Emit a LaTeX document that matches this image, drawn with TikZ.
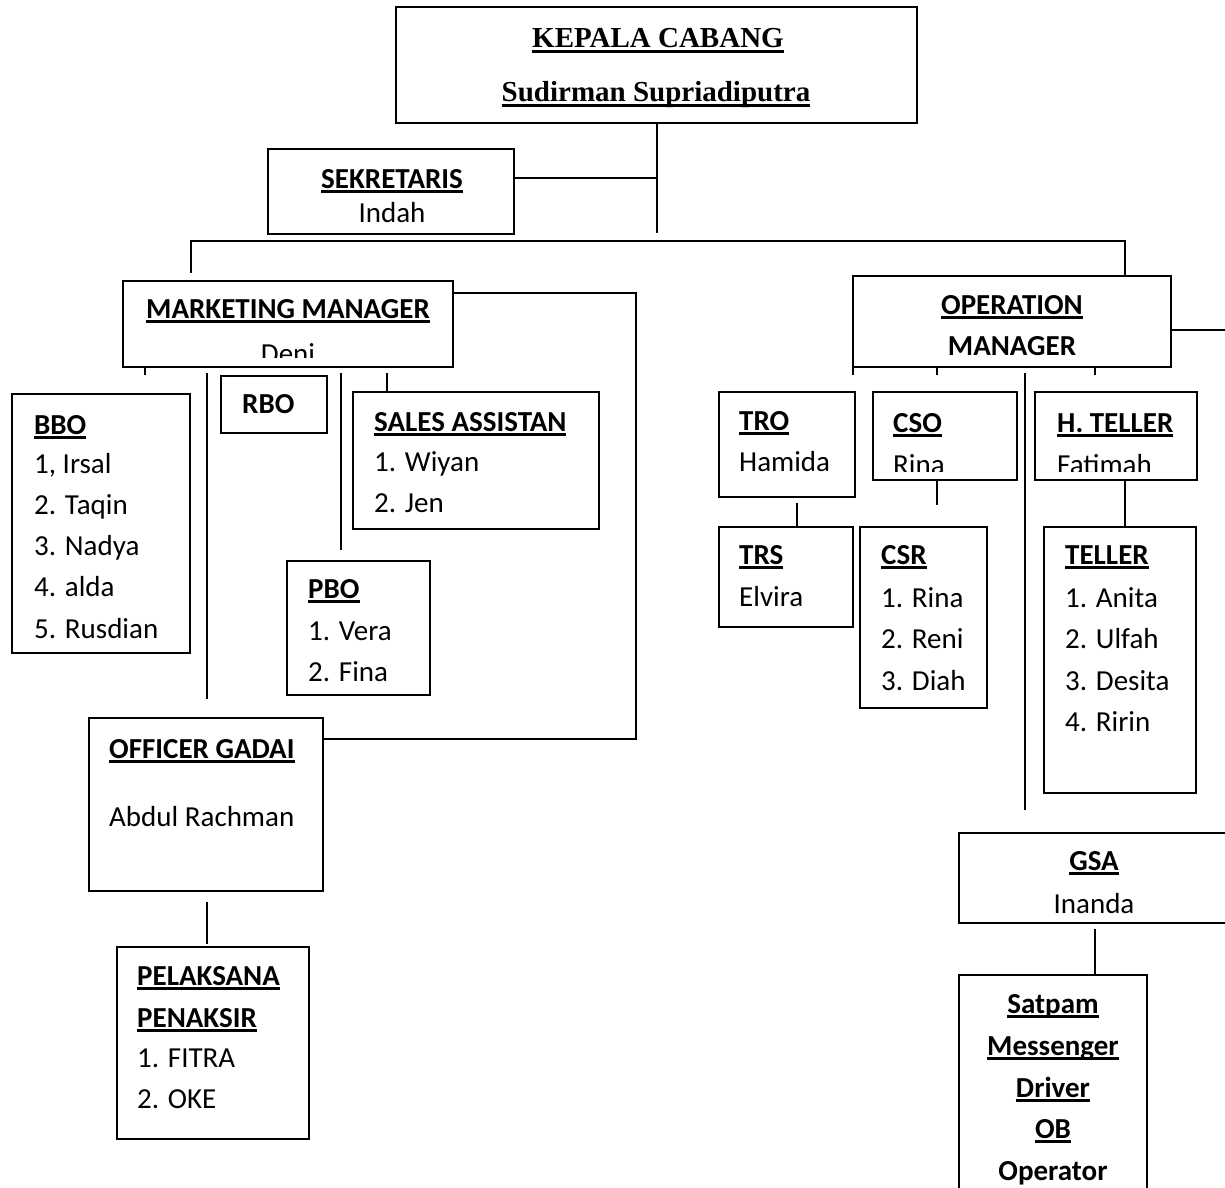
\documentclass[tikz,border=0pt]{standalone}
\usepackage{fontspec}
\setmainfont{Carlito}
\newfontfamily\tms{Liberation Serif}
\newsavebox\ulbx
\newcommand\ulc[1]{\sbox\ulbx{#1}\rlap{\rule[-5pt]{\wd\ulbx}{2.6pt}}\usebox\ulbx}
\newcommand\ult[1]{\sbox\ulbx{#1}\rlap{\rule[-5.5pt]{\wd\ulbx}{2.6pt}}\usebox\ulbx}
\newcommand\bx[5]{\node[box,minimum width={#4pt-#2pt},minimum height={#5pt-#3pt}] (#1) at (#2,#3) {};}
\tikzset{
  box/.style={draw,line width=2.2pt,inner sep=0pt,outer sep=0pt,anchor=north west},
  txt/.style={inner sep=0pt,anchor=base west,font=\fontsize{29}{35}\selectfont},
  ctxt/.style={txt,anchor=base},
  ttxt/.style={inner sep=0pt,anchor=base,font=\fontsize{29}{35}\selectfont\tms\bfseries},
  ln/.style={line width=2pt}
}
\begin{document}
\begin{tikzpicture}[x=1pt,y=-1pt]
\useasboundingbox (0,0) rectangle (1225,1187);
\begin{scope}
\clip (0,0) rectangle (1225,1187);
% boxes
\bx{kc}{396}{7}{917}{123}
\bx{sek}{268}{149}{514}{234}
\bx{mm}{123}{281}{453}{367}
\bx{bbo}{12}{394}{190}{653}
\bx{rbo}{221}{376}{327}{433}
\bx{sa}{353}{392}{599}{529}
\bx{pbo}{287}{561}{430}{695}
\bx{og}{89}{718}{323}{891}
\bx{pp}{117}{947}{309}{1139}
\bx{om}{853}{276}{1171}{367}
\bx{tro}{719}{392}{855}{497}
\bx{cso}{873}{392}{1017}{480}
\bx{ht}{1035}{392}{1197}{480}
\bx{trs}{719}{527}{853}{627}
\bx{csr}{860}{527}{987}{708}
\bx{tel}{1044}{527}{1196}{793}
\bx{gsa}{959}{833}{1240}{923}
\bx{sat}{959}{975}{1147}{1200}
% texts
\node[ttxt] (kc1) at (658,47) {\ult{KEPALA CABANG}};
\node[ttxt] (kc2) at (656,101) {\ult{Sudirman Supriadiputra}};
\node[ctxt] (sek1) at (392,188) {\bfseries\ulc{SEKRETARIS}};
\node[ctxt] (sek2) at (392,222) {Indah};
\node[ctxt] (mm1) at (288,318) {\bfseries\ulc{MARKETING MANAGER}};
\begin{scope}
\clip (mm.north west) rectangle ([yshift=10pt]mm.south east);
\node[ctxt] (mm2) at (288,363) {Deni};
\end{scope}
\node[txt] (bbo1) at (34,434) {\bfseries\ulc{BBO}};
\node[txt] (bbo2) at (34,473) {1, Irsal};
\node[txt] (bbo3) at (34,514) {2. Taqin};
\node[txt] (bbo4) at (34,555) {3. Nadya};
\node[txt] (bbo5) at (34,596) {4. alda};
\node[txt] (bbo6) at (34,638) {5. Rusdian};
\node[txt] (rbo1) at (242,413) {\bfseries RBO};
\node[txt] (sa1) at (374,431) {\bfseries\ulc{SALES ASSISTAN}};
\node[txt] (sa2) at (374,471) {1. Wiyan};
\node[txt] (sa3) at (374,512) {2. Jen};
\node[txt] (pbo1) at (308,598) {\bfseries\ulc{PBO}};
\node[txt] (pbo2) at (308,640) {1. Vera};
\node[txt] (pbo3) at (308,681) {2. Fina};
\node[txt] (og1) at (109,758) {\bfseries\ulc{OFFICER GADAI}};
\node[txt] (og2) at (109,826) {Abdul Rachman};
\node[txt] (pp1) at (137,985) {\bfseries\ulc{PELAKSANA}};
\node[txt] (pp2) at (137,1027) {\bfseries\ulc{PENAKSIR}};
\node[txt] (pp3) at (137,1067) {1. FITRA};
\node[txt] (pp4) at (137,1108) {2. OKE};
\node[ctxt] (om1) at (1012,314) {\bfseries\ulc{OPERATION}};
\node[ctxt] (om2) at (1012,355) {\bfseries MANAGER};
\node[txt] (tro1) at (739,430) {\bfseries\ulc{TRO}};
\node[txt] (tro2) at (739,471) {Hamida};
\node[txt] (cso1) at (893,432) {\bfseries\ulc{CSO}};
\node[txt] (ht1) at (1057,432) {\bfseries\ulc{H. TELLER}};
\begin{scope}
\clip (cso.north west) rectangle ([yshift=9pt]ht.south east);
\node[txt] (cso2) at (893,474) {Rina};
\node[txt] (ht2) at (1057,474) {Fatimah};
\end{scope}
\node[txt] (trs1) at (739,564) {\bfseries\ulc{TRS}};
\node[txt] (trs2) at (739,606) {Elvira};
\node[txt] (csr1) at (881,564) {\bfseries\ulc{CSR}};
\node[txt] (csr2) at (881,607) {1. Rina};
\node[txt] (csr3) at (881,648) {2. Reni};
\node[txt] (csr4) at (881,690) {3. Diah};
\node[txt] (tel1) at (1065,564) {\bfseries\ulc{TELLER}};
\node[txt] (tel2) at (1065,607) {1. Anita};
\node[txt] (tel3) at (1065,648) {2. Ulfah};
\node[txt] (tel4) at (1065,690) {3. Desita};
\node[txt] (tel5) at (1065,731) {4. Ririn};
\node[ctxt] (gsa1) at (1094,870) {\bfseries\ulc{GSA}};
\node[ctxt] (gsa2) at (1094,913) {Inanda};
\node[ctxt] (sat1) at (1053,1013) {\bfseries\ulc{Satpam}};
\node[ctxt] (sat2) at (1053,1055) {\bfseries\ulc{Messenger}};
\node[ctxt] (sat3) at (1053,1097) {\bfseries\ulc{Driver}};
\node[ctxt] (sat4) at (1053,1138) {\bfseries\ulc{OB}};
\node[ctxt] (sat5) at (1053,1180) {\bfseries Operator};
% connector coordinates
\coordinate (kcend) at (657,233);
\coordinate (kcjoin) at (657,178);
\coordinate (busL) at (191,241);
\coordinate (busR) at (1125,241);
\coordinate (mmdrop) at (191,273);
\coordinate (loopA) at (636,293);
\coordinate (loopB) at (636,739);
\coordinate (t1a) at (145,367); \coordinate (t1b) at (145,375);
\coordinate (t2a) at (207,373); \coordinate (t2b) at (207,699);
\coordinate (t3a) at (341,373); \coordinate (t3b) at (341,550);
\coordinate (t4a) at (387,373);
\coordinate (oga) at (207,902); \coordinate (ogb) at (207,944);
\coordinate (omr) at (1230,330);
\coordinate (u1) at (853,375);
\coordinate (u2a) at (937,367); \coordinate (u2b) at (937,375);
\coordinate (u3a) at (1095,367); \coordinate (u3b) at (1095,375);
\coordinate (u4a) at (1025,373); \coordinate (u4b) at (1025,810);
\coordinate (troa) at (797,503);
\coordinate (csob) at (937,505);
\coordinate (gsaa) at (1095,929);
% connectors
\draw[ln] (kc.south -| kcend) -- (kcend);
\draw[ln] (sek.east |- kcjoin) -- (kcjoin);
\draw[ln] (mmdrop) -- (busL) -- (busR) -- (om.north -| busR);
\draw[ln] (mm.east |- loopA) -- (loopA) -- (loopB) -- (og.east |- loopB);
\draw[ln] (t1a) -- (t1b);
\draw[ln] (t2a) -- (t2b);
\draw[ln] (t3a) -- (t3b);
\draw[ln] (t4a) -- (sa.north -| t4a);
\draw[ln] (oga) -- (ogb);
\draw[ln] (om.east |- omr) -- (omr);
\draw[ln] (om.south west) -- (u1);
\draw[ln] (u2a) -- (u2b);
\draw[ln] (u3a) -- (u3b);
\draw[ln] (u4a) -- (u4b);
\draw[ln] (troa) -- (trs.north -| troa);
\draw[ln] (cso.south -| csob) -- (csob);
\draw[ln] (ht.south -| busR) -- (tel.north -| busR);
\draw[ln] (gsaa) -- (sat.north -| gsaa);
\end{scope}
\end{tikzpicture}
\end{document}
